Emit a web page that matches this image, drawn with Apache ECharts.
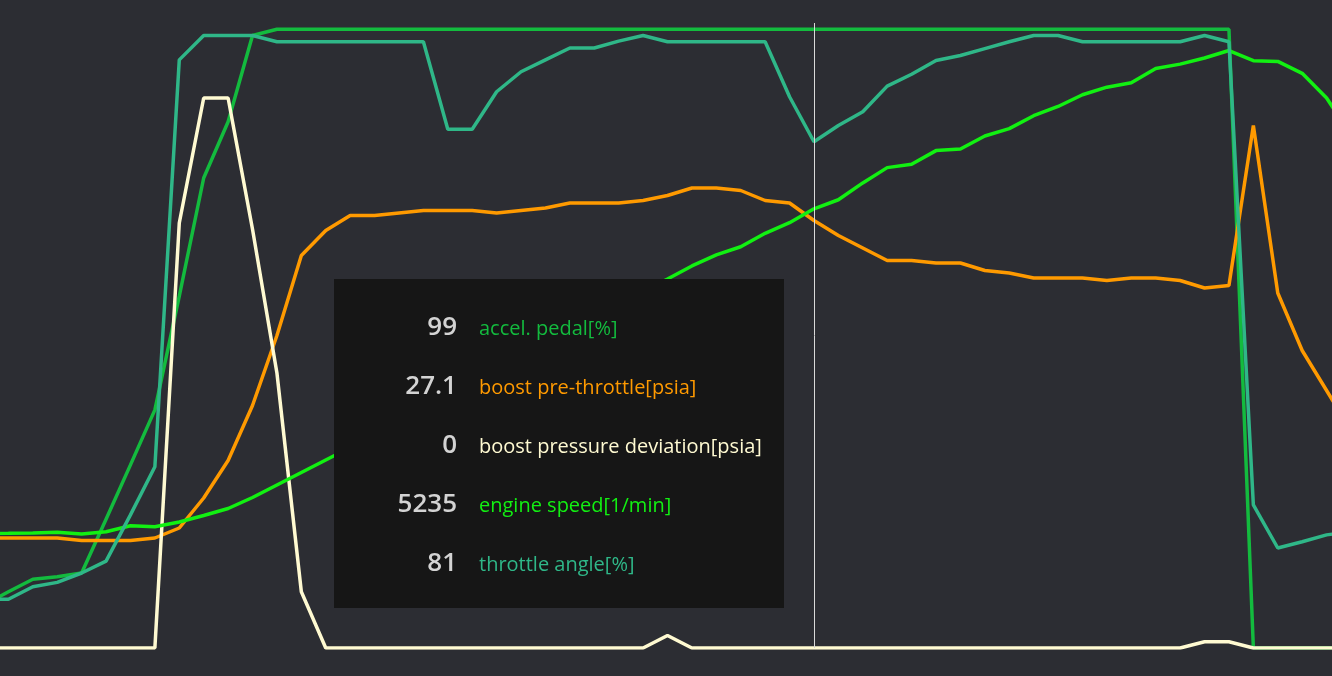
<!DOCTYPE html>
<html>
<head>
<meta charset="utf-8">
<title>engine log</title>
<script src="https://cdn.jsdelivr.net/npm/echarts@6/dist/echarts.min.js"></script>
<style>
html,body{margin:0;padding:0;background:#2c2d33;overflow:hidden;width:1332px;height:676px;}
/* the logged window runs a little past both edges of the view */
#chart{position:absolute;left:-16px;top:0;width:1367px;height:676px;}
</style>
</head>
<body>
<div id="chart"></div>
<script>
// log time [s], one sample per category
var times = ['0.0','0.1','0.2','0.3','0.4','0.5','0.6','0.7','0.8','0.9',
  '1.0','1.1','1.2','1.3','1.4','1.5','1.6','1.7','1.8','1.9',
  '2.0','2.1','2.2','2.3','2.4','2.5','2.6','2.7','2.8','2.9',
  '3.0','3.1','3.2','3.3','3.4','3.5','3.6','3.7','3.8','3.9',
  '4.0','4.1','4.2','4.3','4.4','4.5','4.6','4.7','4.8','4.9',
  '5.0','5.1','5.2','5.3','5.4','5.5','5.6'];

var accelPedal = [6.9, 9, 11, 11.4, 12, 20.6, 29.3, 38.1, 56.3, 75.2, 84.2, 98,
  99, 99, 99, 99, 99, 99, 99, 99, 99, 99,
  99, 99, 99, 99, 99, 99, 99, 99, 99, 99,
  99, 99, 99, 99, 99, 99, 99, 99, 99, 99,
  99, 99, 99, 99, 99, 99, 99, 99, 99, 99,
  0, 0, 0, 0, 0];

var boostPreThrottle = [14.4, 14.4, 14.4, 14.4, 14.3, 14.3, 14.3, 14.4, 14.8, 16.0,
  17.5, 19.7, 22.5, 25.7, 26.7, 27.3, 27.3, 27.4, 27.5, 27.5,
  27.5, 27.4, 27.5, 27.6, 27.8, 27.8, 27.8, 27.9, 28.1, 28.4,
  28.4, 28.3, 27.9, 27.8, 27.1, 26.5, 26.0, 25.5, 25.5, 25.4,
  25.4, 25.1, 25.0, 24.8, 24.8, 24.8, 24.7, 24.8, 24.8, 24.7,
  24.4, 24.5, 30.9, 24.2, 21.9, 20.3, 18.7];

var boostDeviation = [0, 0, 0, 0, 0, 0, 0, 0, 6.8, 8.8,
  8.8, 6.7, 4.4, 0.9, 0, 0, 0, 0, 0, 0,
  0, 0, 0, 0, 0, 0, 0, 0, 0.2, 0,
  0, 0, 0, 0, 0, 0, 0, 0, 0, 0,
  0, 0, 0, 0, 0, 0, 0, 0, 0, 0,
  0.1, 0.1, 0, 0, 0, 0, 0];

var engineSpeed = [1365, 1367, 1371, 1379, 1359, 1386, 1458, 1446, 1502, 1579,
  1663, 1794, 1943, 2092, 2241, 2390, 2552, 2698, 2870, 3012,
  3150, 3318, 3490, 3641, 3782, 3955, 4108, 4247, 4398, 4554,
  4685, 4783, 4943, 5070, 5235, 5343, 5544, 5726, 5767, 5929,
  5949, 6103, 6191, 6345, 6455, 6595, 6685, 6737, 6908, 6960,
  7033, 7122, 7001, 6992, 6850, 6556, 6115];

var throttleAngle = [7.8, 7.8, 9.8, 10.5, 12.0, 13.9, 21.3, 29.0, 94.1, 98,
  98, 98, 97, 97, 97, 97, 97, 97, 97, 83,
  83, 89, 92.2, 94.1, 96, 96, 97.1, 98, 97, 97,
  97, 97, 97, 88.2, 81, 83.6, 85.8, 89.9, 91.8, 94,
  94.8, 95.9, 97, 98, 98, 97, 97, 97, 97, 97,
  98, 97, 22.9, 16, 17, 18.1, 18.6];

var seriesNames = ['accel. pedal[%]', 'boost pre-throttle[psia]', 'boost pressure deviation[psia]', 'engine speed[1/min]', 'throttle angle[%]'];
var seriesColors = ['#13bb3e', '#ff9a00', '#fffad2', '#12f012', '#2fb788'];
var seriesData = [accelPedal, boostPreThrottle, boostDeviation, engineSpeed, throttleAngle];
var seriesAxis = [0, 1, 2, 3, 0];
var cursorIndex = 34;

var chart = echarts.init(document.getElementById('chart'));

var option = {
  backgroundColor: '#2c2d33',
  animation: false,
  grid: {
    left: 0,
    right: 0,
    top: 23,
    bottom: 28
  },
  xAxis: {
    type: 'category',
    show: false,
    boundaryGap: false,
    data: times
  },
  yAxis: [
    {type: 'value', show: false, min: 0, max: 100},
    {type: 'value', show: false, min: 10, max: 35},
    {type: 'value', show: false, min: 0, max: 10},
    {type: 'value', show: false, min: 0, max: 7450}
  ],
  tooltip: {
    trigger: 'axis',
    triggerOn: 'none',
    alwaysShowContent: true,
    position: [350, 279],
    backgroundColor: '#161616',
    borderWidth: 0,
    borderRadius: 0,
    padding: [17, 0, 17, 0],
    transitionDuration: 0,
    textStyle: {fontFamily: 'Open Sans'},
    extraCssText: 'width:450px;box-sizing:border-box;box-shadow:none;',
    axisPointer: {
      type: 'line',
      animation: false,
      lineStyle: {color: '#d9d9d9', width: 1, type: 'solid'}
    },
    formatter: function (params) {
      var html = '';
      params.forEach(function (p) {
        html += '<div style="height:59px;line-height:59px;white-space:nowrap;font-family:\'Open Sans\';">' +
          '<span style="display:inline-block;width:123px;text-align:right;font-size:26px;font-weight:600;color:#d3d3d3;">' + p.value + '</span>' +
          '<span style="display:inline-block;margin-left:22px;font-size:20px;color:' + p.color + ';">' + p.seriesName + '</span>' +
          '</div>';
      });
      return html;
    }
  },
  series: seriesNames.map(function (name, i) {
    return {
      name: name,
      type: 'line',
      yAxisIndex: seriesAxis[i],
      data: seriesData[i],
      symbol: 'none',
      color: seriesColors[i],
      lineStyle: {width: 3.5, color: seriesColors[i]},
      emphasis: {disabled: true}
    };
  })
};

chart.setOption(option);
chart.dispatchAction({type: 'showTip', seriesIndex: 0, dataIndex: cursorIndex});
</script>
</body>
</html>
